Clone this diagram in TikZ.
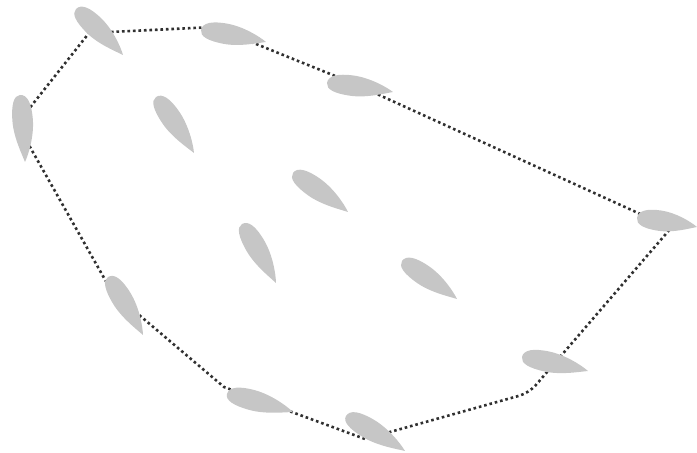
\documentclass[tikz,border=0pt]{standalone}
\usetikzlibrary{calc}
\definecolor{leafgrey}{HTML}{C6C6C6}
\definecolor{hullgrey}{HTML}{303030}
\tikzset{
  hull/.style={draw=hullgrey, line width=2.6pt, dash pattern=on 2.6pt off 2.9pt},
  leaf/.style={fill=leafgrey, draw=none}
}
% leaf: rounded end at (#1,#2), tip at (#3,#4), image pixel coordinates (y down)
\newcommand\leafshape[4]{%
  \pgfmathsetmacro\lfx{#3-#1}%
  \pgfmathsetmacro\lfy{#2-#4}%
  \pgfmathsetmacro\lfang{atan2(\lfy,\lfx)}%
  \pgfmathsetmacro\lflen{veclen(\lfx,\lfy)}%
  \fill[leaf, shift={(#1,453-#2)}, rotate=\lfang]
    (0,0) .. controls (0,7.5) and (0.14*\lflen,11) .. (0.38*\lflen,11)
    .. controls (0.62*\lflen,11) and (0.88*\lflen,4.5) .. (\lflen,0)
    .. controls (0.88*\lflen,-2.5) and (0.62*\lflen,-9.5) .. (0.38*\lflen,-9.5)
    .. controls (0.14*\lflen,-9.5) and (0,-6.5) .. (0,0) -- cycle;
}
\begin{document}
\begin{tikzpicture}[x=1pt,y=1pt]
\useasboundingbox (0,0) rectangle (697,453);
% hull vertices (image coords converted: y -> 453-y)
\coordinate (v1) at (89,453-33);
\coordinate (v2) at (214,453-27);
\coordinate (v3) at (355,453-84);
\coordinate (v4) at (671,453-228);
\coordinate (v5) at (529,453-393);
\coordinate (v6) at (365,453-439);
\coordinate (v7) at (224,453-387);
\coordinate (v8) at (112,453-292);
\coordinate (v9) at (17,453-124);
\draw[hull] (v1) -- (v2) -- (v3) -- (v4) [rounded corners=10pt] -- (v5) [sharp corners] -- (v6) -- (v7) -- (v8) -- (v9) -- cycle;
% leaves
\leafshape{76}{9}{123}{55}
\leafshape{201}{30}{266}{42}
\leafshape{327}{83}{393}{92}
\leafshape{20}{95}{25}{162}
\leafshape{156}{97}{194}{153}
\leafshape{293}{173}{348}{212}
\leafshape{242}{224}{276}{283}
\leafshape{402}{261}{457}{299}
\leafshape{637}{218}{697}{227}
\leafshape{522}{357}{588}{371}
\leafshape{108}{277}{143}{335}
\leafshape{227}{394}{293}{412}
\leafshape{346}{416}{405}{451}
\end{tikzpicture}
\end{document}
